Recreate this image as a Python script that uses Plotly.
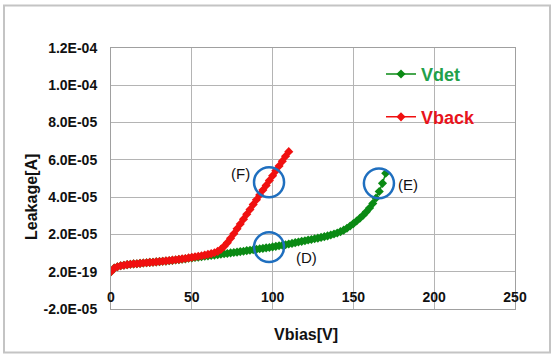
import plotly.graph_objects as go

# ---- data (leakage in microamps) ----
vback_v = [0, 2, 4, 6, 8, 10, 12, 14, 16, 18, 20, 22, 24, 26, 28, 30, 32, 34, 36, 38,
           40, 42, 44, 46, 48, 50, 52, 54, 56, 58, 60, 62, 64, 66, 68, 70, 72, 74, 76, 78,
           80, 82, 84, 86, 88, 90, 92, 94, 96, 98, 100, 102, 104, 106, 108, 110]
vback_ua = [0.0, 1.9, 2.7, 3.2, 3.5, 3.8, 4.0, 4.2, 4.3, 4.5, 4.7, 4.8, 5.0, 5.1, 5.3, 5.5, 5.6, 5.8, 6.0, 6.2,
            6.4, 6.6, 6.9, 7.1, 7.4, 7.7, 8.0, 8.3, 8.6, 8.9, 9.3, 9.7, 10.2, 10.9, 12.0, 13.6, 15.6, 17.9, 20.4, 23.0,
            25.6, 28.2, 30.8, 33.4, 36.0, 38.6, 41.2, 43.8, 46.3, 48.9, 51.5, 54.1, 56.7, 59.3, 61.9, 64.4]

vdet_v = [0, 2, 4, 6, 8, 10, 12, 14, 16, 18, 20, 22, 24, 26, 28, 30, 32, 34, 36, 38,
          40, 42, 44, 46, 48, 50, 52, 54, 56, 58, 60, 62, 64, 66, 68, 70, 72, 74, 76, 78,
          80, 82, 84, 86, 88, 90, 92, 94, 96, 98, 100, 102, 104, 106, 108, 110, 112, 114, 116, 118,
          120, 122, 124, 126, 128, 130, 132, 134, 136, 138, 140, 142, 144, 146, 148, 150, 152, 154, 156, 158,
          160, 162, 164, 166, 168, 170]
vdet_ua = [0.0, 1.9, 2.7, 3.2, 3.5, 3.8, 4.0, 4.2, 4.3, 4.5, 4.7, 4.8, 5.0, 5.1, 5.3, 5.4, 5.6, 5.7, 5.9, 6.1,
           6.3, 6.5, 6.7, 6.9, 7.2, 7.4, 7.6, 7.8, 8.0, 8.3, 8.5, 8.7, 8.9, 9.1, 9.4, 9.6, 9.8, 10.1, 10.3, 10.5,
           10.8, 11.0, 11.3, 11.5, 11.8, 12.0, 12.3, 12.5, 12.8, 13.0, 13.3, 13.6, 13.9, 14.2, 14.5, 14.9, 15.2, 15.6, 15.9, 16.3,
           16.6, 17.0, 17.3, 17.7, 18.0, 18.4, 18.8, 19.2, 19.7, 20.2, 20.8, 21.5, 22.3, 23.3, 24.5, 25.8, 27.2, 28.7, 30.3, 32.1,
           34.2, 36.6, 39.5, 43.0, 47.4, 52.8]

y_tickvals = [-2e-5, 2e-19, 2e-5, 4e-5, 6e-5, 8e-5, 1.0e-4, 1.2e-4]
y_ticktext = ["-2.0E-05", "2.0E-19", "2.0E-05", "4.0E-05", "6.0E-05", "8.0E-05", "1.0E-04", "1.2E-04"]
x_tickvals = [0, 50, 100, 150, 200, 250]

# circled regions: centre V, centre leakage (A)
circle_v = [97.8, 97.8, 165.8]
circle_a = [4.8e-5, 1.32e-5, 4.74e-5]

RED = "#f01010"
GREEN = "#0a8a14"
BLUE = "#1f6fbf"
FONT = "Liberation Sans"

fig = go.Figure()
fig.add_trace(go.Scatter(
    x=vdet_v, y=[v * 1e-6 for v in vdet_ua], mode="lines+markers", name="Vdet",
    line=dict(color=GREEN, width=1.5), marker=dict(symbol="diamond", size=7, color=GREEN),
    legend="legend", showlegend=True))
fig.add_trace(go.Scatter(
    x=vback_v, y=[v * 1e-6 for v in vback_ua], mode="lines+markers", name="Vback",
    line=dict(color=RED, width=1.5), marker=dict(symbol="diamond", size=7, color=RED),
    legend="legend2", showlegend=True))
# invisible trace carrying the tick labels on the overlay x axis
fig.add_trace(go.Scatter(x=[0, 250], y=[0, 0], xaxis="x2", mode="markers",
                         marker=dict(opacity=0), showlegend=False, hoverinfo="skip"))

# plot geometry (pixels) for paper conversions
L, R, T, B = 111, 40, 47.7, 46.7
W, H = 555 - L - R, 356 - T - B

def px(x):
    return (x - L) / W

def py(y):
    return (356 - B - y) / H

rx, ry = 9.3, 8.0e-6
for cx, cy in zip(circle_v, circle_a):
    fig.add_shape(type="circle", xref="x", yref="y",
                  x0=cx - rx, x1=cx + rx, y0=cy - ry, y1=cy + ry,
                  line=dict(color=BLUE, width=2.5), layer="above")

def label(text, x, y, size=15, bold=False, angle=0):
    fig.add_annotation(text=f"<b>{text}</b>" if bold else text, x=px(x), y=py(y),
                       xref="paper", yref="paper", xanchor="center", yanchor="middle",
                       textangle=angle, showarrow=False,
                       font=dict(size=size, color="#111", family=FONT))

label("(F)", 240, 173)
label("(D)", 306, 258)
label("(E)", 408, 185)
label("Leakage[A]", 32, 197, size=16, bold=True, angle=-90)
label("Vbias[V]", 306, 335, size=16, bold=True)

# outer chart frame
fig.add_shape(type="rect", xref="paper", yref="paper",
              x0=px(4), x1=px(550), y0=py(353), y1=py(5),
              line=dict(color="#c4c4c4", width=2), layer="below")

fig.update_layout(
    xaxis=dict(range=[0, 250], tickvals=x_tickvals, showgrid=True, gridcolor="#b4b4b4", gridwidth=1,
               showline=True, mirror=True, linecolor="#a0a0a0", linewidth=1, zeroline=False,
               ticks="", showticklabels=False),
    xaxis2=dict(range=[0, 250], tickvals=x_tickvals, overlaying="x", anchor="free", position=py(287),
                side="bottom", showgrid=False, showline=False, zeroline=False, ticks="",
                ticklabelstandoff=0,
                tickfont=dict(size=14, color="#111", family=FONT, weight="bold")),
    yaxis=dict(range=[-2e-5, 1.2e-4], tickvals=y_tickvals, ticktext=y_ticktext,
               showgrid=True, gridcolor="#b4b4b4", gridwidth=1,
               showline=True, mirror=True, linecolor="#a0a0a0", linewidth=1, zeroline=False,
               ticks="", ticklabelstandoff=10,
               tickfont=dict(size=14, color="#111", family=FONT, weight="bold")),
    width=555, height=356, autosize=False,
    margin=dict(l=L, r=R, t=T, b=B),
    paper_bgcolor="white", plot_bgcolor="white", showlegend=True,
    legend=dict(x=px(381), y=py(74), xanchor="left", yanchor="middle", bgcolor="rgba(0,0,0,0)",
                font=dict(size=18, color="#22a04a", family=FONT, weight="bold"), itemwidth=30),
    legend2=dict(x=px(381), y=py(117), xanchor="left", yanchor="middle", bgcolor="rgba(0,0,0,0)",
                 font=dict(size=18, color="#e8141c", family=FONT, weight="bold"), itemwidth=30),
)

fig.write_html("out.html")
